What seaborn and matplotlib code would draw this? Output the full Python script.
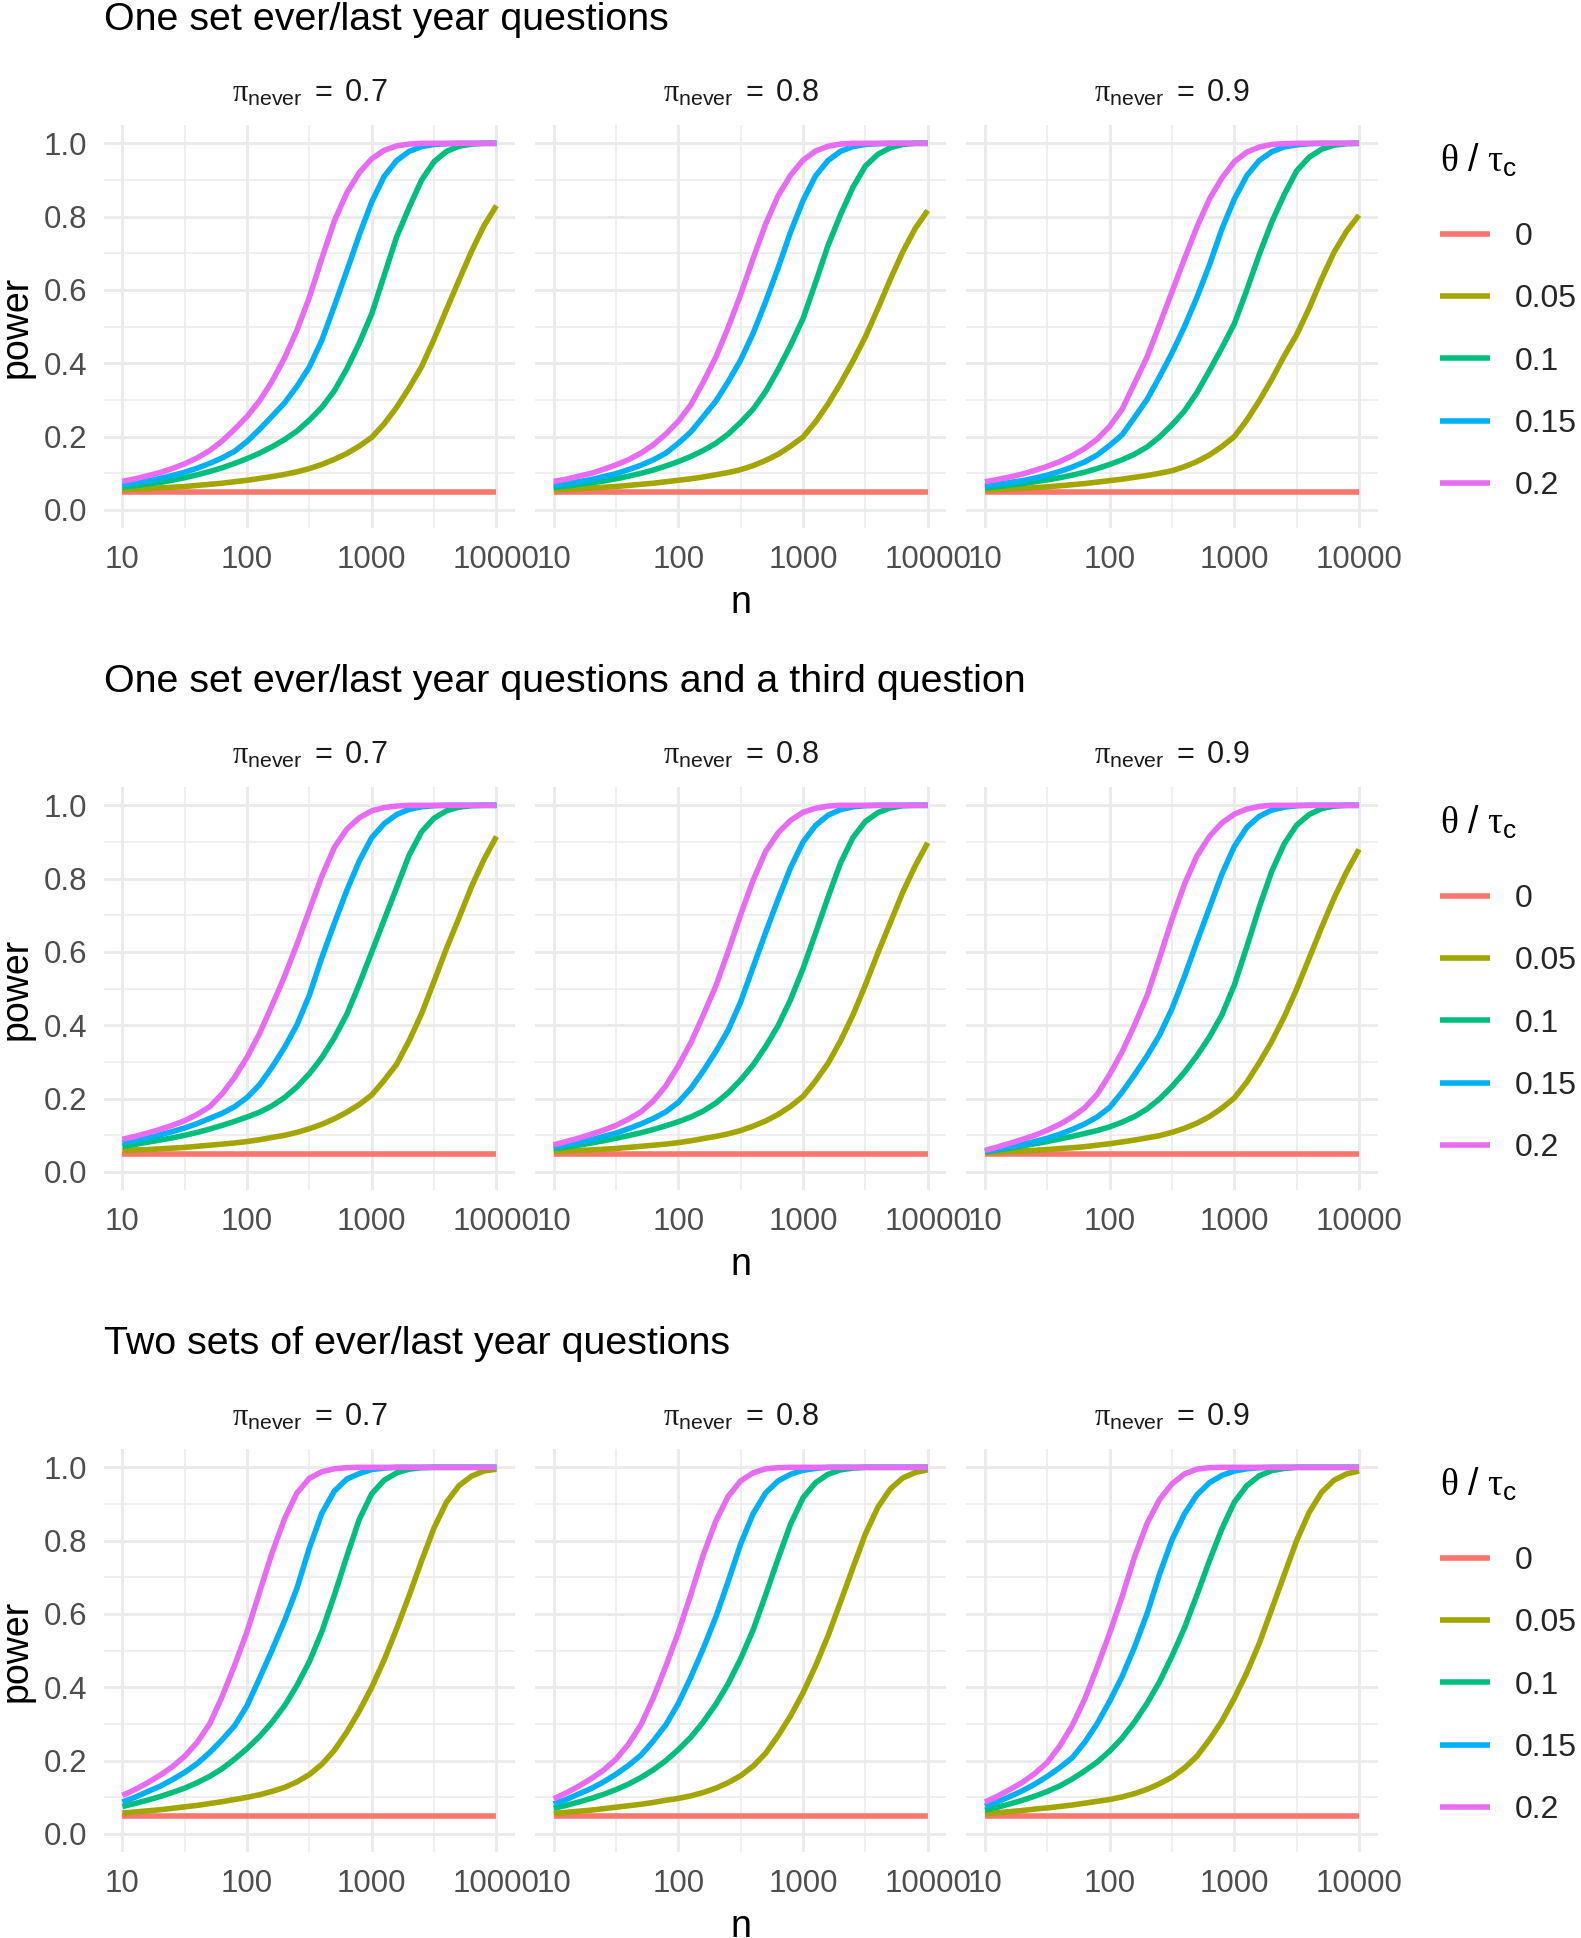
"""
Power curves for three question designs, faceted by pi_never.
"""
import pandas as pd
import matplotlib
matplotlib.use("Agg")
import matplotlib.pyplot as plt
import seaborn as sns
from matplotlib.lines import Line2D
from matplotlib.ticker import FixedLocator, FixedFormatter, NullFormatter


# -----------------------------
# Data
# -----------------------------

n_values = [10, 12.6, 15.8, 20, 25.1, 31.6, 39.8, 50.1, 63.1, 79.4,
            100, 126, 158, 200, 251, 316, 398, 501, 631, 794,
            1000, 1259, 1585, 1995, 2512, 3162, 3981, 5012, 6310, 7943, 10000]

theta_labels = ["0", "0.05", "0.1", "0.15", "0.2"]
theta_colors = ["#F8766D", "#A3A500", "#00BF7D", "#00B0F6", "#E76BF3"]
pi_labels = ["0.7", "0.8", "0.9"]

row_titles = [
    "One set ever/last year questions",
    "One set ever/last year questions and a third question",
    "Two sets of ever/last year questions",
]

power_theta0 = [0.05, 0.05, 0.05, 0.05, 0.05, 0.05, 0.05, 0.05, 0.05, 0.05,
                0.05, 0.05, 0.05, 0.05, 0.05, 0.05, 0.05, 0.05, 0.05, 0.05,
                0.05, 0.05, 0.05, 0.05, 0.05, 0.05, 0.05, 0.05, 0.05, 0.05, 0.05]

# each panel: theta = 0.05, 0.1, 0.15, 0.2
one_set_07 = [
    [.055, .057, .058, .060, .062, .064, .067, .070, .073, .077,
     .081, .086, .091, .097, .104, .113, .124, .138, .154, .174,
     .198, .235, .280, .333, .391, .466, .547, .627, .705, .775, .830],
    [.062, .066, .071, .075, .081, .088, .096, .105, .115, .127,
     .140, .155, .172, .192, .215, .245, .280, .325, .385, .455,
     .535, .640, .745, .825, .900, .950, .978, .992, .998, 1.0, 1.0],
    [.069, .074, .079, .086, .094, .103, .114, .127, .142, .160,
     .187, .220, .255, .292, .337, .390, .463, .556, .652, .750,
     .840, .910, .953, .978, .991, .997, .999, 1.0, 1.0, 1.0, 1.0],
    [.078, .085, .093, .102, .113, .126, .142, .162, .188, .220,
     .255, .298, .350, .415, .490, .580, .686, .788, .865, .920,
     .958, .981, .993, .998, 1.0, 1.0, 1.0, 1.0, 1.0, 1.0, 1.0],
]
one_set_08 = [
    [.055, .057, .058, .060, .062, .064, .067, .070, .073, .077,
     .081, .085, .090, .096, .102, .110, .121, .135, .152, .174,
     .199, .240, .289, .345, .406, .472, .549, .629, .704, .768, .817],
    [.061, .065, .070, .074, .079, .085, .092, .100, .109, .120,
     .132, .146, .162, .182, .207, .239, .275, .323, .383, .449,
     .522, .620, .721, .805, .880, .938, .970, .988, .997, 1.0, 1.0],
    [.068, .072, .077, .083, .091, .099, .110, .122, .137, .155,
     .182, .213, .254, .297, .350, .409, .482, .568, .660, .758,
     .844, .911, .953, .978, .991, .997, .999, 1.0, 1.0, 1.0, 1.0],
    [.078, .084, .092, .100, .111, .123, .137, .155, .178, .207,
     .242, .287, .348, .417, .498, .588, .686, .780, .857, .913,
     .954, .979, .992, .998, 1.0, 1.0, 1.0, 1.0, 1.0, 1.0, 1.0],
]
one_set_09 = [
    [.055, .056, .058, .059, .061, .063, .066, .069, .072, .076,
     .080, .084, .089, .094, .100, .107, .118, .132, .150, .173,
     .200, .245, .298, .356, .420, .478, .550, .630, .703, .760, .804],
    [.060, .064, .068, .072, .077, .082, .088, .095, .103, .113,
     .124, .137, .152, .172, .199, .232, .270, .320, .380, .442,
     .508, .600, .697, .785, .860, .925, .962, .984, .995, .999, 1.0],
    [.066, .070, .075, .080, .087, .095, .105, .117, .131, .150,
     .176, .205, .252, .302, .363, .428, .500, .580, .668, .766,
     .848, .912, .953, .977, .990, .996, .999, 1.0, 1.0, 1.0, 1.0],
    [.077, .083, .090, .098, .108, .119, .132, .148, .168, .193,
     .228, .275, .345, .418, .505, .595, .685, .772, .848, .905,
     .950, .976, .990, .997, .999, 1.0, 1.0, 1.0, 1.0, 1.0, 1.0],
]

third_q_07 = [
    [.058, .060, .061, .063, .065, .067, .070, .073, .076, .079,
     .083, .088, .094, .100, .108, .118, .130, .145, .163, .184,
     .210, .250, .294, .358, .432, .520, .610, .693, .778, .852, .915],
    [.070, .075, .081, .087, .093, .100, .108, .117, .127, .138,
     .150, .163, .180, .203, .232, .268, .312, .366, .430, .512,
     .600, .688, .776, .864, .928, .965, .985, .995, .999, 1.0, 1.0],
    [.080, .086, .093, .101, .110, .120, .132, .146, .160, .178,
     .203, .238, .285, .340, .401, .482, .585, .678, .768, .848,
     .912, .950, .975, .989, .996, .999, 1.0, 1.0, 1.0, 1.0, 1.0],
    [.089, .097, .106, .116, .127, .140, .157, .178, .213, .258,
     .313, .378, .453, .534, .621, .714, .807, .885, .935, .966,
     .985, .994, .998, 1.0, 1.0, 1.0, 1.0, 1.0, 1.0, 1.0, 1.0],
]
third_q_08 = [
    [.056, .057, .059, .060, .062, .064, .067, .070, .073, .076,
     .080, .085, .091, .097, .104, .113, .125, .139, .157, .179,
     .206, .248, .296, .357, .428, .510, .597, .680, .763, .835, .898],
    [.063, .068, .073, .079, .085, .092, .099, .107, .116, .126,
     .137, .150, .166, .188, .216, .251, .292, .342, .399, .470,
     .555, .651, .749, .842, .912, .956, .980, .993, .999, 1.0, 1.0],
    [.069, .074, .081, .088, .097, .106, .118, .131, .146, .164,
     .190, .228, .275, .329, .387, .464, .559, .653, .744, .830,
     .900, .945, .973, .988, .996, .999, 1.0, 1.0, 1.0, 1.0, 1.0],
    [.074, .083, .092, .103, .114, .127, .144, .164, .194, .235,
     .290, .353, .427, .508, .602, .702, .796, .874, .925, .959,
     .981, .992, .998, 1.0, 1.0, 1.0, 1.0, 1.0, 1.0, 1.0, 1.0],
]
third_q_09 = [
    [.053, .054, .056, .057, .059, .061, .064, .066, .069, .073,
     .077, .082, .087, .093, .099, .108, .119, .133, .151, .174,
     .202, .245, .298, .356, .423, .499, .583, .667, .747, .818, .880],
    [.055, .060, .065, .071, .077, .083, .090, .097, .105, .113,
     .123, .136, .151, .172, .199, .233, .272, .317, .368, .428,
     .510, .614, .722, .820, .895, .946, .975, .991, .998, 1.0, 1.0],
    [.057, .062, .068, .075, .083, .092, .103, .116, .131, .150,
     .176, .218, .265, .317, .373, .445, .533, .628, .720, .812,
     .888, .940, .970, .987, .995, .999, 1.0, 1.0, 1.0, 1.0, 1.0],
    [.059, .068, .078, .089, .100, .114, .130, .150, .175, .212,
     .266, .328, .400, .482, .583, .689, .785, .862, .915, .952,
     .976, .990, .997, 1.0, 1.0, 1.0, 1.0, 1.0, 1.0, 1.0, 1.0],
]

two_sets_07 = [
    [.057, .060, .063, .066, .070, .074, .078, .083, .088, .094,
     .100, .107, .116, .127, .142, .162, .190, .228, .278, .335,
     .400, .475, .560, .650, .745, .835, .905, .950, .976, .990, .995],
    [.075, .083, .092, .102, .113, .125, .140, .157, .178, .204,
     .233, .266, .304, .350, .405, .470, .552, .651, .757, .858,
     .928, .965, .985, .995, .999, 1.0, 1.0, 1.0, 1.0, 1.0, 1.0],
    [.087, .100, .115, .130, .148, .168, .192, .222, .257, .295,
     .350, .425, .500, .582, .670, .780, .875, .935, .968, .983,
     .994, .998, 1.0, 1.0, 1.0, 1.0, 1.0, 1.0, 1.0, 1.0, 1.0],
    [.105, .121, .139, .160, .183, .212, .250, .300, .375, .460,
     .552, .660, .765, .860, .930, .970, .988, .996, .999, 1.0,
     1.0, 1.0, 1.0, 1.0, 1.0, 1.0, 1.0, 1.0, 1.0, 1.0, 1.0],
]
two_sets_08 = [
    [.056, .059, .062, .065, .069, .073, .077, .081, .086, .092,
     .097, .104, .113, .125, .140, .159, .185, .220, .268, .322,
     .385, .458, .540, .632, .726, .818, .891, .941, .971, .986, .993],
    [.070, .078, .087, .097, .108, .121, .136, .154, .175, .200,
     .230, .264, .305, .354, .410, .478, .557, .652, .751, .845,
     .917, .958, .981, .993, .998, 1.0, 1.0, 1.0, 1.0, 1.0, 1.0],
    [.082, .094, .109, .124, .142, .163, .187, .215, .254, .298,
     .356, .428, .505, .592, .689, .791, .874, .930, .963, .981,
     .992, .997, 1.0, 1.0, 1.0, 1.0, 1.0, 1.0, 1.0, 1.0, 1.0],
    [.096, .112, .130, .151, .174, .204, .245, .298, .372, .458,
     .550, .654, .760, .854, .921, .963, .985, .996, .999, 1.0,
     1.0, 1.0, 1.0, 1.0, 1.0, 1.0, 1.0, 1.0, 1.0, 1.0, 1.0],
]
two_sets_09 = [
    [.055, .058, .061, .064, .068, .071, .075, .079, .084, .089,
     .094, .101, .110, .122, .137, .155, .180, .212, .257, .308,
     .370, .440, .520, .613, .707, .800, .877, .932, .965, .982, .990],
    [.065, .073, .082, .092, .103, .116, .131, .150, .172, .196,
     .226, .262, .305, .357, .415, .485, .562, .652, .745, .832,
     .905, .950, .977, .991, .997, 1.0, 1.0, 1.0, 1.0, 1.0, 1.0],
    [.076, .088, .102, .118, .136, .157, .181, .208, .250, .301,
     .362, .430, .509, .602, .708, .802, .873, .925, .958, .978,
     .990, .996, .999, 1.0, 1.0, 1.0, 1.0, 1.0, 1.0, 1.0, 1.0],
    [.087, .103, .121, .141, .165, .195, .240, .296, .368, .455,
     .548, .648, .755, .848, .912, .955, .982, .995, .999, 1.0,
     1.0, 1.0, 1.0, 1.0, 1.0, 1.0, 1.0, 1.0, 1.0, 1.0, 1.0],
]

panels = [
    [one_set_07, one_set_08, one_set_09],
    [third_q_07, third_q_08, third_q_09],
    [two_sets_07, two_sets_08, two_sets_09],
]


# -----------------------------
# Helpers
# -----------------------------

W, H = 1581, 1938


def panel_frame(curves):

    frames = []
    for label, values in zip(theta_labels, [power_theta0] + curves):
        frames.append(pd.DataFrame({"n": n_values, "power": values, "theta": label}))
    return pd.concat(frames, ignore_index=True)


def fx(px):
    return px / W


def fy(py):
    return 1 - py / H


def style_axis(ax, show_y):

    ax.set_xscale("log")
    ax.set_xlim(10 / 10 ** 0.15, 10000 * 10 ** 0.15)
    ax.set_ylim(-0.05, 1.05)

    ax.xaxis.set_major_locator(FixedLocator([10, 100, 1000, 10000]))
    ax.xaxis.set_major_formatter(FixedFormatter(["10", "100", "1000", "10000"]))
    ax.xaxis.set_minor_locator(FixedLocator([10 ** 1.5, 10 ** 2.5, 10 ** 3.5]))
    ax.xaxis.set_minor_formatter(NullFormatter())

    ax.yaxis.set_major_locator(FixedLocator([0, 0.2, 0.4, 0.6, 0.8, 1.0]))
    ax.yaxis.set_minor_locator(FixedLocator([0.1, 0.3, 0.5, 0.7, 0.9]))
    if show_y:
        ax.yaxis.set_major_formatter(FixedFormatter(["0.0", "0.2", "0.4", "0.6", "0.8", "1.0"]))
    else:
        ax.yaxis.set_major_formatter(NullFormatter())

    ax.grid(which="major", color="#EBEBEB", linewidth=2.1)
    ax.grid(which="minor", color="#EBEBEB", linewidth=1.1)
    ax.set_axisbelow(True)

    ax.tick_params(which="both", length=0, labelsize=22.5, labelcolor="#4D4D4D")
    ax.tick_params(axis="x", pad=12)
    ax.tick_params(axis="y", pad=12)

    for spine in ax.spines.values():
        spine.set_visible(False)

    ax.set_xlabel("")
    ax.set_ylabel("")


# -----------------------------
# Plot
# -----------------------------

def make_plot():

    sns.set_theme(style="white")
    plt.rcParams["font.family"] = ["Liberation Sans", "DejaVu Sans"]
    plt.rcParams["mathtext.fontset"] = "custom"
    plt.rcParams["mathtext.rm"] = "Liberation Sans"
    plt.rcParams["mathtext.it"] = "Liberation Serif"
    plt.rcParams["mathtext.sf"] = "Liberation Sans"

    fig = plt.figure(figsize=(W / 100, H / 100), dpi=100)
    fig.patch.set_facecolor("white")

    panel_left = 103.7
    panel_step = 431.3
    panel_w = 411.4
    panel_top = 125.0
    panel_h = 403.3
    row_step = 662.0
    line_w = 4.0

    handles = [Line2D([0], [0], color=c, linewidth=line_w, solid_capstyle="butt")
               for c in theta_colors]

    for r, row in enumerate(panels):

        dy = r * row_step

        fig.text(fx(104), fy(30 + dy), row_titles[r], fontsize=28.4,
                 ha="left", va="baseline", color="black")

        for c, curves in enumerate(row):

            left = panel_left + c * panel_step
            top = panel_top + dy
            ax = fig.add_axes([fx(left), fy(top + panel_h), panel_w / W, panel_h / H])

            df = panel_frame(curves)
            sns.lineplot(
                data=df,
                x="n",
                y="power",
                hue="theta",
                hue_order=theta_labels,
                palette=theta_colors,
                linewidth=line_w,
                solid_capstyle="butt",
                legend=False,
                ax=ax
            )
            style_axis(ax, show_y=(c == 0))

            fig.text(fx(left + panel_w / 2), fy(101 + dy),
                     r"$\pi_{\mathrm{never}}\ =\ " + pi_labels[c] + "$",
                     fontsize=22, ha="center", va="baseline", color="#1A1A1A")

        fig.text(fx(17), fy(326.6 + dy), "power", fontsize=27, rotation=90,
                 ha="center", va="center", color="black")
        fig.text(fx(740.7), fy(613 + dy), "n", fontsize=27,
                 ha="center", va="baseline", color="black")

        # legend: title placed on its own, keys below
        fig.text(fx(1440), fy(161 + dy), r"$\theta\ /\ \tau_{\mathrm{c}}$",
                 fontsize=27, ha="left", va="center", color="black")
        fig.legend(
            handles,
            theta_labels,
            loc="upper left",
            bbox_to_anchor=(fx(1440), fy(222 + dy)),
            frameon=False,
            fontsize=23,
            handlelength=1.55,
            handletextpad=0.8,
            labelspacing=1.01,
            borderpad=0,
            borderaxespad=0,
        )

    fig.savefig("out.png", dpi=100)


def main():

    make_plot()


if __name__ == "__main__":
    main()
